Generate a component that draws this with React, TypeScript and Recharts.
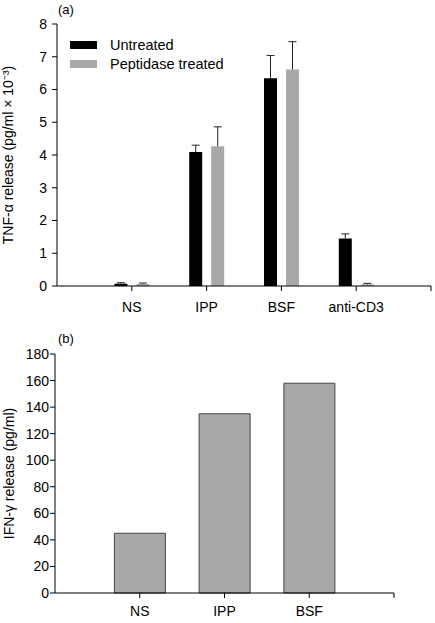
import { BarChart, Bar, XAxis, YAxis } from 'recharts';

// (a) TNF-alpha release, pg/ml x 10^-3
const groupsA = ['NS', 'IPP', 'BSF', 'anti-CD3'];
const untreated = [0.07, 4.09, 6.34, 1.45];
const untreatedErr = [0.03, 0.21, 0.7, 0.14];
const peptidase = [0.06, 4.27, 6.61, 0.05];
const peptidaseErr = [0.03, 0.59, 0.85, 0.03];
const ticksA = [0, 1, 2, 3, 4, 5, 6, 7, 8];
const seriesA = [
  { key: 'untreated', name: 'Untreated', color: '#000' },
  { key: 'peptidase', name: 'Peptidase treated', color: '#a8a8a8' },
];

// (b) IFN-gamma release, pg/ml
const groupsB = ['NS', 'IPP', 'BSF'];
const ifnGamma = [45, 135, 158];
const ticksB = [0, 20, 40, 60, 80, 100, 120, 140, 160, 180];

const dataA = groupsA.map((name, i) => ({
  pos: i + 1,
  name,
  untreated: untreated[i],
  untreatedErr: untreatedErr[i],
  peptidase: peptidase[i],
  peptidaseErr: peptidaseErr[i],
}));

const dataB = groupsB.map((name, i) => ({ pos: i + 1, name, ifn: ifnGamma[i] }));

const font = '"Liberation Sans", Arial, sans-serif';
const tickStyle = { fill: '#000', fontSize: 14, fontFamily: font };

// one-sided error whisker drawn on top of each bar (stacked segment)
function Whisker(props: any) {
  const { x, y, width, height } = props;
  if (!height || height <= 0) return null;
  const cx = x + width / 2;
  return (
    <g stroke="#222" strokeWidth={1}>
      <line x1={cx} x2={cx} y1={y} y2={y + height} />
      <line x1={cx - 4} x2={cx + 4} y1={y} y2={y} />
    </g>
  );
}

function LegendBox() {
  return (
    <div style={{ position: 'absolute', left: 70, top: 35, fontFamily: font, fontSize: 14.5, color: '#000' }}>
      {seriesA.map((s) => (
        <div key={s.key} style={{ display: 'flex', alignItems: 'center', height: 19 }}>
          <span style={{ display: 'inline-block', width: 27, height: 8, background: s.color, marginRight: 13 }} />
          <span>{s.name}</span>
        </div>
      ))}
    </div>
  );
}

export default function App() {
  return (
    <div style={{ position: 'absolute', left: 0, top: 0, width: 435, height: 623, background: '#fff', fontFamily: font }}>
      <div style={{ position: 'absolute', left: 58, top: 3, fontSize: 13, lineHeight: 1 }}>(a)</div>
      <div style={{ position: 'absolute', left: 0, top: 0 }}>
        <BarChart width={435} height={320} data={dataA} margin={{ top: 24, right: 4, left: 0, bottom: 4 }} barGap={9}>
          <XAxis
            dataKey="pos"
            type="number"
            domain={[0, 5]}
            ticks={[1, 2, 3, 4, 5]}
            interval={0}
            height={30}
            tickFormatter={(v: number) => groupsA[v - 1] ?? ''}
            tick={tickStyle}
            tickSize={5}
            tickMargin={11}
            axisLine={{ stroke: '#000' }}
            tickLine={{ stroke: '#000' }}
          />
          <YAxis
            width={57}
            domain={[0, 8]}
            ticks={ticksA}
            interval={0}
            tick={tickStyle}
            tickSize={5}
            tickMargin={5}
            axisLine={{ stroke: '#000' }}
            tickLine={{ stroke: '#000' }}
            label={{
              value: 'TNF-α release (pg/ml × 10⁻³)',
              angle: -90,
              position: 'insideLeft',
              offset: 8,
              style: { textAnchor: 'middle', fill: '#000', fontSize: 14, fontFamily: font },
            }}
          />
          <Bar dataKey="untreated" name={seriesA[0].name} stackId="u" fill={seriesA[0].color} barSize={13} isAnimationActive={false} />
          <Bar dataKey="untreatedErr" stackId="u" fill="none" barSize={13} shape={<Whisker />} isAnimationActive={false} />
          <Bar dataKey="peptidase" name={seriesA[1].name} stackId="p" fill={seriesA[1].color} barSize={13} isAnimationActive={false} />
          <Bar dataKey="peptidaseErr" stackId="p" fill="none" barSize={13} shape={<Whisker />} isAnimationActive={false} />
        </BarChart>
        <LegendBox />
      </div>

      <div style={{ position: 'absolute', left: 58, top: 332, fontSize: 13, lineHeight: 1 }}>(b)</div>
      <div style={{ position: 'absolute', left: 0, top: 320 }}>
        <BarChart width={435} height={303} data={dataB} margin={{ top: 34, right: 41, left: 0, bottom: 4 }}>
          <XAxis
            dataKey="pos"
            type="number"
            domain={[0, 4]}
            ticks={[1, 2, 3, 4]}
            interval={0}
            height={26}
            tickFormatter={(v: number) => groupsB[v - 1] ?? ''}
            tick={tickStyle}
            tickSize={5}
            tickMargin={8}
            axisLine={{ stroke: '#000' }}
            tickLine={{ stroke: '#000' }}
          />
          <YAxis
            width={55}
            domain={[0, 180]}
            ticks={ticksB}
            interval={0}
            tick={tickStyle}
            tickSize={5}
            tickMargin={1}
            axisLine={{ stroke: '#000' }}
            tickLine={{ stroke: '#000' }}
            label={{
              value: 'IFN-γ release (pg/ml)',
              angle: -90,
              position: 'insideLeft',
              offset: 9,
              style: { textAnchor: 'middle', fill: '#000', fontSize: 14, fontFamily: font },
            }}
          />
          <Bar dataKey="ifn" fill="#a8a8a8" stroke="#444" strokeWidth={1} barSize={51} isAnimationActive={false} />
        </BarChart>
      </div>
    </div>
  );
}
